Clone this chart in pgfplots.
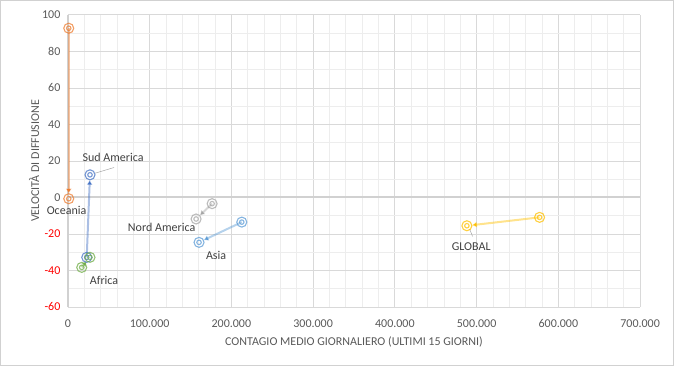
\documentclass[border=0pt]{standalone}
\usepackage{pgfplots}
\pgfplotsset{compat=1.18}
\usepackage{fontspec}
\setmainfont{Carlito}
\usetikzlibrary{arrows.meta}
\definecolor{cOce}{HTML}{ED7D31}
\definecolor{cSud}{HTML}{4472C4}
\definecolor{cAfr}{HTML}{70AD47}
\definecolor{cNor}{HTML}{A5A5A5}
\definecolor{cAsi}{HTML}{5B9BD5}
\definecolor{cGlo}{HTML}{FFC000}
\definecolor{txt}{HTML}{595959}
\definecolor{lab}{HTML}{404040}
\pgfdeclareplotmark{target}{%
  \pgfpathcircle{\pgfpointorigin}{\pgfplotmarksize}\pgfusepathqstroke
  \pgfpathcircle{\pgfpointorigin}{0.45\pgfplotmarksize}\pgfusepathqstroke}
\pgfplotsset{
  trail/.style={line width=2pt, draw=#1, draw opacity=0.45, -{Latex[length=5pt,width=6pt]}, shorten >=5pt, no markers},
  pts/.style={only marks, mark=target, mark size=5pt, mark options={draw=#1, draw opacity=0.75, line width=1.1pt, fill=none}},
}
\begin{document}
\begin{tikzpicture}
\begin{axis}[
  scale only axis,
  width=572pt, height=292pt,
  xmin=0, xmax=700000, ymin=-60, ymax=100,
  scaled x ticks=false,
  xtick={0,100000,...,700000},
  xticklabels={0,100.000,200.000,300.000,400.000,500.000,600.000,700.000},
  ytick={-60,-40,...,100},
  yticklabels={{\textcolor{red}{-60}},{\textcolor{red}{-40}},{\textcolor{red}{-20}},0,20,40,60,80,100},
  minor x tick num=4, minor y tick num=1,
  grid=both,
  major grid style={draw=black!15, line width=0.8pt},
  minor grid style={draw=black!7, line width=0.8pt},
  axis line style={draw=none},
  tick style={draw=none},
  ticklabel style={font=\fontsize{12}{14}\selectfont, text=txt},
  xticklabel style={yshift=-9pt},
  yticklabel style={xshift=-4pt},
  xlabel={CONTAGIO MEDIO GIORNALIERO (ULTIMI 15 GIORNI)},
  ylabel={VELOCITÀ DI DIFFUSIONE},
  label style={font=\fontsize{12}{14}\selectfont, text=txt},
  xlabel style={yshift=-2pt},
  ylabel style={yshift=-4pt},
  clip=false,
]
\draw[black!18, line width=2pt] (axis cs:0,-60) -- (axis cs:0,100);
\draw[black!18, line width=2pt] (axis cs:0,0) -- (axis cs:700000,0);
% Oceania
\addplot[trail=cOce] coordinates {(1000,92.7) (1000,-0.7)};
\addplot[pts=cOce] coordinates {(1000,92.7) (1000,-0.7)};
% Sud America
\addplot[trail=cSud] coordinates {(23000,-32.8) (27000,12.4)};
\addplot[pts=cSud] coordinates {(23000,-32.8) (27000,12.4)};
% Africa
\addplot[trail=cAfr] coordinates {(16900,-38.3) (27000,-32.8)};
\addplot[pts=cAfr] coordinates {(16900,-38.3) (27000,-32.8)};
% Nord America
\addplot[trail=cNor] coordinates {(176400,-3.4) (156800,-11.8)};
\addplot[pts=cNor] coordinates {(176400,-3.4) (156800,-11.8)};
% Asia
\addplot[trail=cAsi] coordinates {(212700,-13.5) (160400,-24.6)};
\addplot[pts=cAsi] coordinates {(212700,-13.5) (160400,-24.6)};
% GLOBAL
\addplot[trail=cGlo] coordinates {(577000,-10.9) (488100,-15.5)};
\addplot[pts=cGlo] coordinates {(577000,-10.9) (488100,-15.5)};
% leader lines
\draw[black!35, line width=0.5pt] (axis cs:33300,13.3) -- (axis cs:56400,16.4);
\draw[black!35, line width=0.5pt] (axis cs:491400,-17.3) -- (axis cs:495000,-21.3);
% labels
\begin{scope}[every node/.style={font=\fontsize{12}{14}\selectfont, text=lab, inner sep=0pt}]
\node at (axis cs:55200,21.7) {Sud America};
\node at (axis cs:-1700,-7.3) {Oceania};
\node at (axis cs:114600,-16.6) {Nord America};
\node at (axis cs:181300,-32) {Asia};
\node at (axis cs:44200,-45.6) {Africa};
\node at (axis cs:493400,-27) {GLOBAL};
\end{scope}
\end{axis}
\draw[black!18, line width=0.8pt] (-67.5pt,-58.5pt) rectangle (605.5pt,306.5pt);
\end{tikzpicture}
\end{document}
